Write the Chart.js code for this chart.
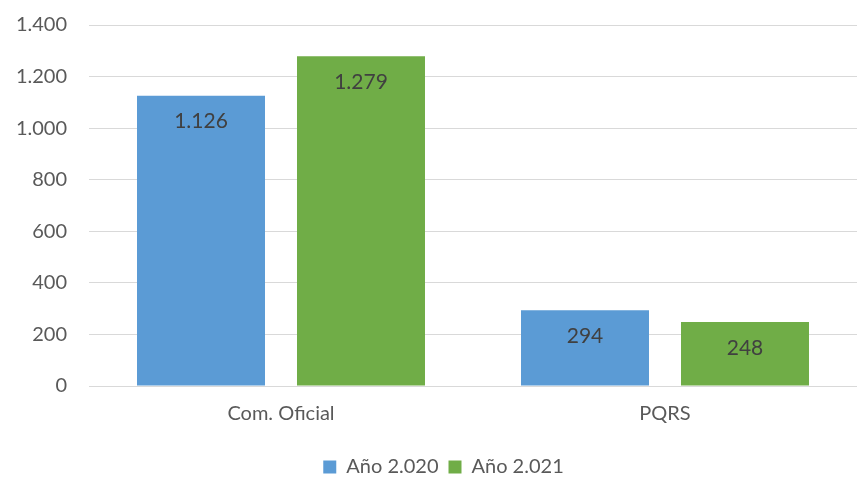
<!DOCTYPE html>
<html>
<head>
<meta charset="utf-8">
<script src="https://cdn.jsdelivr.net/npm/chart.js@4.4.1/dist/chart.umd.min.js"></script>
<style>
  html, body { margin: 0; padding: 0; background: #ffffff; }
  #wrap { width: 859px; height: 487px; }
</style>
</head>
<body>
<div id="wrap"><canvas id="c" width="859" height="487"></canvas></div>
<script>
const categories = ["Com. Oficial", "PQRS"];
const seriesNames = ["Año 2.020", "Año 2.021"];
const values2020 = [1126, 294];
const values2021 = [1279, 248];
const yTicks = [0, 200, 400, 600, 800, 1000, 1200, 1400];

function fmt(v) {
  return String(v).replace(/\B(?=(\d{3})+(?!\d))/g, ".");
}

const dataLabels = {
  id: "dataLabels",
  afterDatasetsDraw(chart) {
    const ctx = chart.ctx;
    ctx.save();
    ctx.font = "21px Lato";
    ctx.fillStyle = "#404040";
    ctx.textAlign = "center";
    ctx.textBaseline = "middle";
    chart.data.datasets.forEach((ds, i) => {
      const meta = chart.getDatasetMeta(i);
      meta.data.forEach((bar, j) => {
        ctx.fillText(fmt(ds.data[j]), bar.x, bar.y + 26);
      });
    });
    ctx.restore();
  }
};

const legendShift = {
  id: "legendShift",
  afterLayout(chart) {
    if (chart.legend) {
      chart.legend.left += 15;
      chart.legend.right += 15;
    }
  }
};

new Chart(document.getElementById("c"), {
  type: "bar",
  data: {
    labels: categories,
    datasets: [
      { label: seriesNames[0], data: values2020, backgroundColor: "#5B9BD5",
        categoryPercentage: 0.8333, barPercentage: 0.8 },
      { label: seriesNames[1], data: values2021, backgroundColor: "#70AD47",
        categoryPercentage: 0.8333, barPercentage: 0.8 }
    ]
  },
  options: {
    responsive: false,
    animation: false,
    devicePixelRatio: 1,
    layout: { padding: { left: 0, right: 2, top: 25, bottom: 0 } },
    plugins: {
      legend: {
        position: "bottom",
        labels: {
          boxWidth: 13, boxHeight: 13, padding: 10,
          color: "#595959",
          font: { family: "Lato", size: 20, lineHeight: 1 }
        }
      },
      tooltip: { enabled: false }
    },
    scales: {
      x: {
        grid: { display: false, drawTicks: false },
        border: { display: false },
        ticks: { color: "#595959", padding: 16, font: { family: "Lato", size: 20 } },
        afterFit(scale) { scale.height = 61; }
      },
      y: {
        min: 0, max: 1400,
        grid: { color: "#d9d9d9", lineWidth: 1, drawTicks: false },
        border: { display: false },
        afterBuildTicks(scale) { scale.ticks = yTicks.map(v => ({ value: v })); },
        ticks: {
          color: "#595959", padding: 22,
          font: { family: "Lato", size: 20 },
          callback: (v) => fmt(v)
        },
        afterFit(scale) {
          scale.width = 89;
          scale.paddingTop = 12;
          scale.paddingBottom = 12;
        }
      }
    }
  },
  plugins: [dataLabels, legendShift]
});
</script>
</body>
</html>
